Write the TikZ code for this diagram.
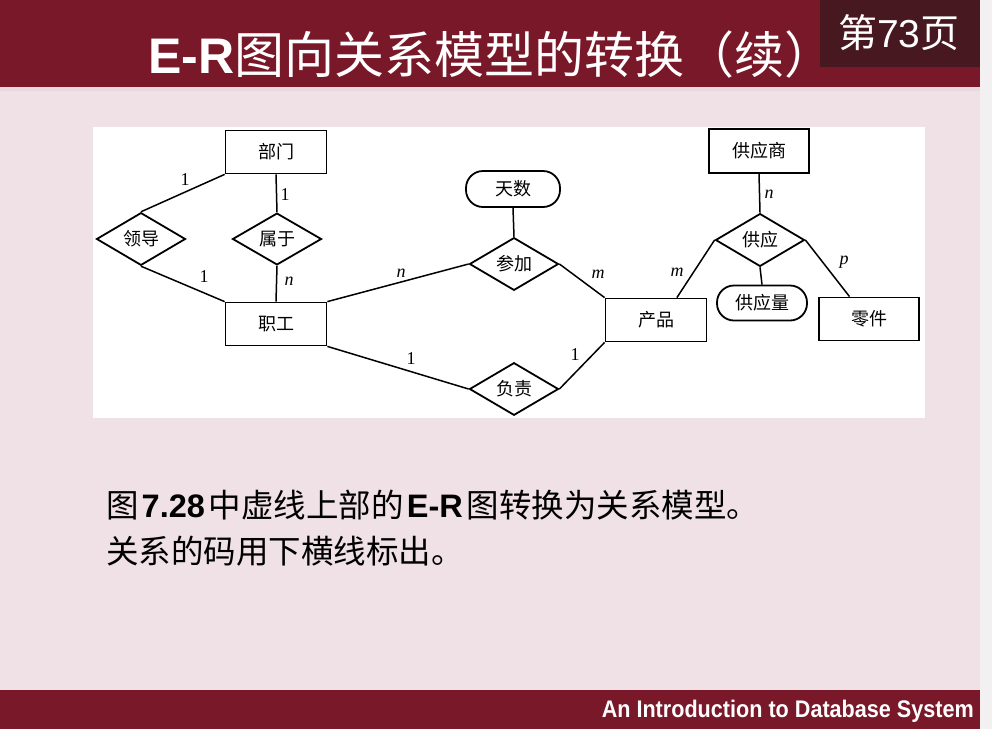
\documentclass[tikz,border=0pt]{standalone}
\usepackage{fontspec}
\setmainfont{Liberation Sans}
\newfontfamily\cjk{Noto Sans CJK SC}
\newfontfamily\serif{Liberation Serif}
\newfontfamily\narrow[FakeStretch=0.9]{Liberation Sans}
\usetikzlibrary{shapes.geometric}
\definecolor{bgpink}{RGB}{239,225,229}
\definecolor{barred}{RGB}{120,24,40}
\definecolor{pagebox}{RGB}{72,24,32}
\definecolor{stripgray}{RGB}{242,240,241}
\definecolor{seam}{RGB}{230,218,222}

\begin{document}
\begin{tikzpicture}[x=1pt,y=-1pt,
  entity/.style={draw,line width=1.8pt,minimum width=101pt,minimum height=43pt,inner sep=0pt,font=\cjk\fontsize{18}{18}\selectfont},
  relation/.style={diamond,draw,line width=1.8pt,minimum width=89pt,minimum height=44pt,inner sep=0pt,font=\cjk\fontsize{18}{18}\selectfont},
  attr/.style={draw,rounded corners=17pt,line width=1.8pt,minimum width=94pt,minimum height=36pt,inner sep=0pt,font=\cjk\fontsize{18}{18}\selectfont},
  card/.style={inner sep=0pt,font=\serif\fontsize{18}{18}\selectfont},
  link/.style={line width=1.5pt}]
\useasboundingbox (0,0) rectangle (992,729);
\fill[bgpink] (0,0) rectangle (992,729);
\fill[stripgray] (980,0) rectangle (992,729);
\fill[barred] (0,0) rectangle (980,87);
\fill[seam] (0,87) rectangle (980,91);
\fill[pagebox] (820,0) rectangle (980,67);
\fill[barred] (0,690) rectangle (980,729);
\fill[white] (93,127) rectangle (925,418);

\node[anchor=base west,inner sep=0pt,text=white] (title) at (148,73) {\fontsize{50}{50}\selectfont{\bfseries E-R}{\cjk 图向关系模型的转换（续）}};
\node[anchor=base west,inner sep=0pt,text=white] (page) at (838,47) {\fontsize{39}{39}\selectfont{\cjk 第}73{\cjk 页}};
\node[anchor=base west,inner sep=0pt] (line1) at (106,517) {\fontsize{32.5}{32.5}\selectfont{\cjk 图}\hspace{3pt}{\bfseries 7.28}\hspace{4pt}{\cjk 中虚线上部的}\hspace{3pt}{\bfseries E-R}\hspace{4pt}{\cjk 图转换为关系模型。}};
\node[anchor=base west,inner sep=0pt] (line2) at (106,563) {\fontsize{32.5}{32.5}\selectfont\cjk 关系的码用下横线标出。};
\node[anchor=base east,inner sep=0pt,text=white] (foot) at (974,717) {\narrow\bfseries\fontsize{24}{24}\selectfont An Introduction to Database System};

\node[entity] (bm) at (276,152) {部门};
\node[relation] (ld) at (141,239) {领导};
\node[relation] (sy) at (277,239) {属于};
\node[entity] (zg) at (276,324) {职工};
\node[attr] (ts) at (513,189) {天数};
\node[relation] (cj) at (514,264) {参加};
\node[relation] (fz) at (514,389) {负责};
\node[entity] (cp) at (656,320) {产品};
\node[entity,minimum width=100pt,minimum height=44pt] (gys) at (759,151) {供应商};
\node[relation] (gy) at (760,240) {供应};
\node[attr,minimum width=90pt,minimum height=35pt] (gyl) at (762,303) {供应量};
\node[entity,minimum width=100pt] (lj) at (869,319) {零件};

\draw[link] (bm.south west) -- (ld.north);
\draw[link] (ld.south) -- (zg.north west);
\draw[link] (bm.south) -- (sy.north);
\draw[link] (sy.south) -- (zg.north);
\draw[link] (zg.north east) -- (cj.west);
\draw[link] (zg.south east) -- (fz.west);
\draw[link] (ts.south) -- (cj.north);
\draw[link] (cj.east) -- (cp.north west);
\draw[link] (fz.east) -- (cp.south west);
\draw[link] (gys.south) -- (gy.north);
\draw[link] (gy.west) -- (cp.47);
\draw[link] (gy.south) -- (gyl.north);
\draw[link] (gy.east) -- (lj.131.5);

\node[card] (c1) at (185,180) {1};
\node[card] (c2) at (285,195) {1};
\node[card] (c3) at (204,277) {1};
\node[card] (c4) at (289,281) {\itshape n};
\node[card] (c5) at (401,273) {\itshape n};
\node[card] (c6) at (411,359) {1};
\node[card] (c7) at (598,274) {\itshape m};
\node[card] (c8) at (575,355) {1};
\node[card] (c9) at (769,194) {\itshape n};
\node[card] (c10) at (677,272) {\itshape m};
\node[card] (c11) at (844,262) {\itshape p};
\end{tikzpicture}
\end{document}
